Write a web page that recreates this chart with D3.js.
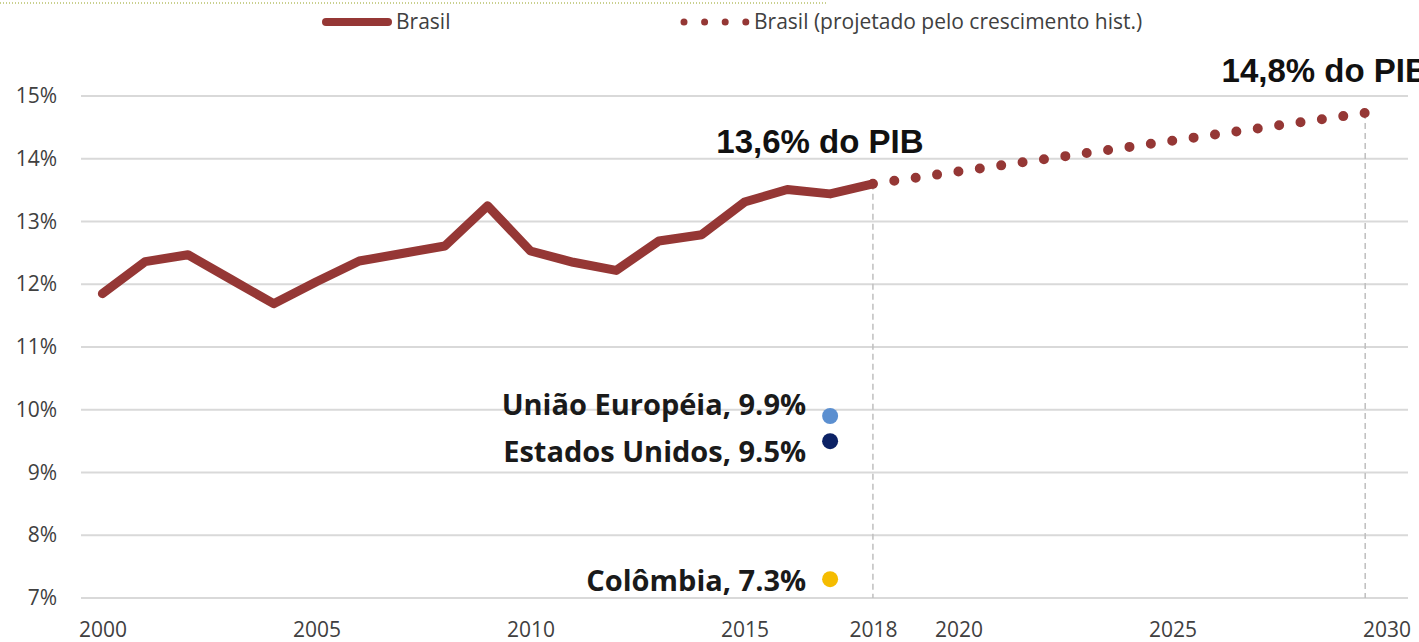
<!DOCTYPE html>
<html>
<head>
<meta charset="utf-8">
<script src="https://cdn.jsdelivr.net/npm/d3@7"></script>
<style>
  body { margin: 0; background: #fff; }
  svg { display: block; }
</style>
</head>
<body>
<div id="chart"></div>
<script>
// dados
var years = [2000, 2001, 2002, 2003, 2004, 2005, 2006, 2007, 2008, 2009,
             2010, 2011, 2012, 2013, 2014, 2015, 2016, 2017, 2018];
var brasil = [11.85, 12.36, 12.47, 12.08, 11.69, 12.04, 12.37, 12.49, 12.61, 13.25,
              12.53, 12.35, 12.22, 12.69, 12.79, 13.31, 13.51, 13.44, 13.6];
var projYears = [2018, 2029.5];
var projValues = [13.6, 14.73];
var compNames = ["União Européia, 9.9%", "Estados Unidos, 9.5%", "Colômbia, 7.3%"];
var compValues = [9.9, 9.5, 7.3];
var compYear = 2017;
var compColors = ["#5b8fd0", "#0c2265", "#f5bc00"];
var xTicks = [2000, 2005, 2010, 2015, 2018, 2020, 2025, 2030];
var yTicks = [7, 8, 9, 10, 11, 12, 13, 14, 15];
var noteTexts = ["13,6% do PIB", "14,8% do PIB"];
var noteYears = [2018, 2029.5];
var noteValues = [13.6, 14.73];

var W = 1419, H = 642;
var lineColor = "#953735";
// deslocamentos verticais dos rótulos (px) para não se sobreporem
var compShift = [-11, 10, 1];
var noteShift = [-53, -40];

var svg = d3.select("#chart").append("svg")
    .attr("width", W)
    .attr("height", H);

var x = d3.scaleLinear()
    .domain([1999.5, 2030.5])
    .range([81, 1408]);

var y = d3.scaleLinear()
    .domain([7, 15])
    .range([598, 96]);

// faixa pontilhada no topo
svg.append("line")
    .attr("x1", 0).attr("x2", 828)
    .attr("y1", 3).attr("y2", 3)
    .attr("stroke", "#c9d08e")
    .attr("stroke-width", 2)
    .attr("stroke-dasharray", "1,2");

// grade
svg.append("g")
  .selectAll("line")
  .data(yTicks)
  .enter()
  .append("line")
    .attr("x1", 81).attr("x2", 1408)
    .attr("y1", function(d){ return y(d) })
    .attr("y2", function(d){ return y(d) })
    .attr("stroke", "#d9d9d9")
    .attr("stroke-width", 2);

// eixo y
var yAxis = svg.append("g")
    .attr("transform", "translate(81,0)")
    .call(d3.axisLeft(y).tickValues(yTicks).tickSize(0).tickPadding(24)
      .tickFormat(function(d){ return d + "%" }));
yAxis.select(".domain").remove();
yAxis.selectAll("text")
    .attr("font-family", "Open Sans, sans-serif")
    .attr("font-size", 21)
    .attr("fill", "#404040");

// eixo x
var xAxis = svg.append("g")
    .attr("transform", "translate(0,598)")
    .call(d3.axisBottom(x).tickValues(xTicks).tickSize(0).tickPadding(24)
      .tickFormat(d3.format("d")));
xAxis.select(".domain").remove();
xAxis.selectAll("text")
    .attr("font-family", "Open Sans, sans-serif")
    .attr("font-size", 21)
    .attr("fill", "#404040");

// linhas verticais tracejadas
svg.append("g")
  .selectAll("line")
  .data(noteYears)
  .enter()
  .append("line")
    .attr("x1", function(d){ return x(d) })
    .attr("x2", function(d){ return x(d) })
    .attr("y1", function(d, i){ return y(noteValues[i]) })
    .attr("y2", y(7))
    .attr("stroke", "#bfbfbf")
    .attr("stroke-width", 1.5)
    .attr("stroke-dasharray", "6,4");

// projeção
var projData = projYears.map(function(d, i){ return {year: d, value: projValues[i]} });
svg.append("path")
    .datum(projData)
    .attr("fill", "none")
    .attr("stroke", lineColor)
    .attr("stroke-width", 10)
    .attr("stroke-linecap", "round")
    .attr("stroke-dasharray", "0,21.6")
    .attr("d", d3.line()
      .x(function(d){ return x(d.year) })
      .y(function(d){ return y(d.value) }));

// Brasil
var data = years.map(function(d, i){ return {year: d, value: brasil[i]} });
svg.append("path")
    .datum(data)
    .attr("fill", "none")
    .attr("stroke", lineColor)
    .attr("stroke-width", 9)
    .attr("stroke-linejoin", "round")
    .attr("stroke-linecap", "round")
    .attr("d", d3.line()
      .x(function(d){ return x(d.year) })
      .y(function(d){ return y(d.value) }));

// comparações
var comp = svg.append("g")
  .selectAll("g")
  .data(compValues)
  .enter()
  .append("g");
comp.append("circle")
    .attr("cx", x(compYear))
    .attr("cy", function(d){ return y(d) })
    .attr("r", 8)
    .attr("fill", function(d, i){ return compColors[i] });
comp.append("text")
    .attr("x", x(compYear) - 24)
    .attr("y", function(d, i){ return y(d) + compShift[i] })
    .attr("dy", "0.36em")
    .attr("text-anchor", "end")
    .attr("font-family", "Open Sans, sans-serif")
    .attr("font-weight", 700)
    .attr("font-size", 29)
    .attr("fill", "#1a1a1a")
    .text(function(d, i){ return compNames[i] });

// rótulos de destaque
svg.append("g")
  .selectAll("text")
  .data(noteTexts)
  .enter()
  .append("text")
    .attr("x", function(d, i){ return x(noteYears[i]) + noteShift[i] })
    .attr("y", function(d, i){ return y(noteValues[i]) - 31 })
    .attr("text-anchor", "middle")
    .attr("font-family", "Liberation Sans, Arial, sans-serif")
    .attr("font-weight", 700)
    .attr("font-size", 33)
    .attr("fill", "#111")
    .text(function(d){ return d });

// legenda
var legend = svg.append("g").attr("transform", "translate(0,22)");
legend.append("line")
    .attr("x1", 326).attr("x2", 388)
    .attr("stroke", lineColor)
    .attr("stroke-width", 8)
    .attr("stroke-linecap", "round");
legend.append("text")
    .attr("x", 396).attr("dy", "0.35em")
    .attr("font-family", "Open Sans, sans-serif")
    .attr("font-size", 21)
    .attr("fill", "#404040")
    .text("Brasil");
legend.append("line")
    .attr("x1", 684).attr("x2", 746)
    .attr("stroke", lineColor)
    .attr("stroke-width", 7)
    .attr("stroke-linecap", "round")
    .attr("stroke-dasharray", "0,20.6");
legend.append("text")
    .attr("x", 754).attr("dy", "0.35em")
    .attr("font-family", "Open Sans, sans-serif")
    .attr("font-size", 21)
    .attr("fill", "#404040")
    .text("Brasil (projetado pelo crescimento hist.)");
</script>
</body>
</html>
